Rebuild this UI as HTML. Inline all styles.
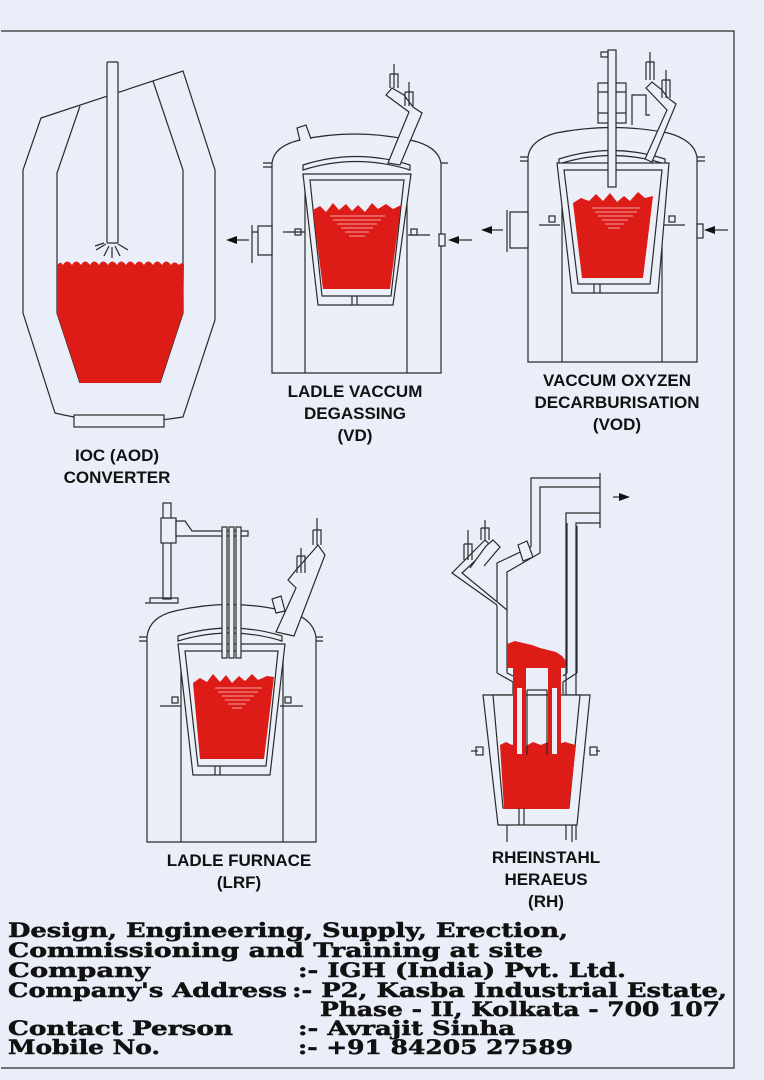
<!DOCTYPE html>
<html><head><meta charset="utf-8"><style>
html,body{margin:0;padding:0;background:#e9eef8;}
svg{display:block}
.l{fill:none;stroke:#2a2a2a;stroke-width:1.2}
.w{fill:#eaeff8;stroke:#2a2a2a;stroke-width:1.2}
.r{fill:#dd1c17;stroke:none}
.lab{font-family:"Liberation Sans",sans-serif;font-weight:bold;font-size:17px;fill:#111;text-anchor:middle}
.ft{font-family:"DejaVu Serif","Liberation Serif",serif;font-weight:bold;font-size:20px;fill:#111;stroke:#111;stroke-width:0.5}
.hl{stroke:#f3a0a0;stroke-width:1}
</style></head><body>
<svg width="764" height="1080" viewBox="0 0 764 1080" xmlns="http://www.w3.org/2000/svg">
<rect x="0" y="0" width="764" height="1080" fill="#e9eef8"/>
<path class="l" d="M1,31 H734 V1068 H1" stroke-width="1.5"/>

<!-- ===== AOD ===== -->
<path class="l" d="M41,118 L183,71 L215,170 L215,320 L183,417 Q117,428 55,413 L23,313 L23,170 Z"/>
<path class="l" d="M80,106 L57,173 L57,313 L80,383 M153,81 L183,170 L183,313 L160,383"/>
<path class="r" d="M57,266 q3,-6 6,-1 q4,-7 9,0 q4,-7 9,0 q4,-7 9,0 q4,-7 9,0 q4,-7 9,0 q4,-7 9,0 q4,-7 9,0 q4,-7 9,0 q4,-7 9,0 q4,-7 9,0 q4,-7 9,0 q4,-7 9,0 q3,-5 8,0 q2,-3 5,-1 L183,313 L160,383 L80,383 L57,313 Z"/>
<rect class="w" x="107" y="62" width="11" height="181" rx="1"/>
<path class="l" d="M106,244 L96,250 M109,246 L104,256 M112,247 L112,258 M115,246 L120,256 M118,244 L128,250 M104,243 L95,246"/>
<rect class="w" x="74" y="415" width="90" height="12"/>
<text class="lab" x="117" y="461">IOC (AOD)</text>
<text class="lab" x="117" y="483">CONVERTER</text>

<!-- ===== VD ===== -->
<path class="w" d="M272,373 V163 Q274,146 300,140 Q355,128 410,140 Q438,146 441,163 V373 Z"/>
<path class="l" d="M263,163 H272 M263,167 H272 M441,163 H448"/>
<path class="w" d="M300,141 L297,128 L306,125 L311,139"/>
<path class="w" d="M303,170 Q356,153 410,170 L410,165 Q356,148 303,165 Z"/>
<path class="l" d="M305,373 V178 M407,373 V178"/>
<path class="w" d="M303,174 H411 L393,305 H318 Z"/>
<path class="w" d="M310,180 H404 L391,296 H322 Z"/>
<path class="r" d="M313,210 L320,206 L326,212 L333,203 L339,210 L346,204 L352,211 L358,205 L365,212 L372,203 L378,209 L386,204 L393,209 L401,205 L390,289 H323 Z"/>
<g class="hl"><line x1="330" y1="216" x2="385" y2="216"/><line x1="333" y1="220" x2="381" y2="220"/><line x1="337" y1="224" x2="377" y2="224"/><line x1="341" y1="228" x2="373" y2="228"/><line x1="345" y1="232" x2="369" y2="232"/><line x1="349" y1="236" x2="365" y2="236"/></g>
<path class="l" d="M352,296 V305 M357,296 V305"/>
<path class="w" d="M258,226 H272 V255 H258 Z"/>
<path class="l" d="M252,225 V263 M252,232 H258"/>
<path class="l" d="M249,240 H236"/><path d="M226,240 L237,236 V244 Z" fill="#111"/>
<rect class="w" x="295" y="229" width="6" height="6"/><path class="l" d="M283,232 H305"/>
<rect class="w" x="411" y="229" width="6" height="6"/><path class="l" d="M408,235 H430"/>
<rect class="w" x="439" y="234" width="6" height="12"/>
<path class="l" d="M472,240 H458"/><path d="M448,240 L459,236 V244 Z" fill="#111"/>
<path class="w" d="M388,163 L409,112 L386,95 L392,88 L404,95 L413,107 L422,113 L400,165 Z"/>
<path class="l" d="M394,64 V88 M390,74 H398 V88 M390,74 V88 M409,82 V106 M405,92 H413 V106 M405,92 V106"/>
<text class="lab" x="355" y="397">LADLE VACCUM</text>
<text class="lab" x="355" y="419">DEGASSING</text>
<text class="lab" x="355" y="441">(VD)</text>

<!-- ===== VOD ===== -->
<path class="w" d="M528,362 V157 Q530,140 556,133 Q612,122 668,133 Q694,140 697,157 V362 Z"/>
<path class="l" d="M520,157 H528 M520,161 H528 M697,157 H705 M697,161 H705"/>
<path class="w" d="M559,164 Q612,147 665,164 L665,159 Q612,142 559,159 Z"/>
<path class="l" d="M562,362 V168 M662,362 V168"/>
<path class="w" d="M557,163 H669 L658,293 H572 Z"/>
<path class="w" d="M564,170 H662 L650,284 H578 Z"/>
<path class="r" d="M573,203 L581,198 L589,201 L596,194 L603,201 L610,193 L617,202 L624,196 L630,201 L638,192 L645,198 L653,196 L643,278 H582 Z"/>
<g class="hl"><line x1="592" y1="208" x2="640" y2="208"/><line x1="595" y1="212" x2="637" y2="212"/><line x1="598" y1="216" x2="633" y2="216"/><line x1="602" y1="220" x2="628" y2="220"/><line x1="605" y1="224" x2="624" y2="224"/><line x1="608" y1="228" x2="620" y2="228"/></g>
<path class="l" d="M594,284 V293 M600,284 V293"/>
<rect class="w" x="598" y="83" width="28" height="40"/>
<path class="l" d="M598,92 H626 M598,113 H626"/>
<rect class="w" x="608" y="50" width="8" height="137"/>
<path class="l" d="M601,52 H608 V57 H601 Z"/>
<path class="w" d="M510,212 H528 V248 H510 Z"/>
<path class="l" d="M507,210 V252"/>
<path class="l" d="M503,230 H490"/><path d="M481,230 L492,226 V234 Z" fill="#111"/>
<rect class="w" x="549" y="216" width="6" height="6"/><path class="l" d="M539,225 H560"/>
<rect class="w" x="669" y="216" width="6" height="6"/><path class="l" d="M664,225 H685"/>
<rect class="w" x="697" y="224" width="6" height="14"/>
<path class="l" d="M728,230 H713"/><path d="M704,230 L715,226 V234 Z" fill="#111"/>
<path class="w" d="M645,159 L667,110 L646,88 L652,82 L662,90 L668,98 L676,104 L652,162 Z"/>
<path class="w" d="M650,115 H646 V95 H632 V125"/>
<path class="l" d="M650,52 V80 M646,62 H654 V80 M646,62 V80 M666,70 V98 M662,80 H670 V98 M662,80 V98"/>
<text class="lab" x="617" y="386">VACCUM OXYZEN</text>
<text class="lab" x="617" y="408">DECARBURISATION</text>
<text class="lab" x="617" y="430">(VOD)</text>

<!-- ===== LRF ===== -->
<path class="w" d="M147,842 V637 Q149,617 175,611 Q230,598 285,611 Q313,617 316,637 V842 Z"/>
<path class="l" d="M139,637 H147 M139,641 H147 M316,637 H323 M316,641 H323"/>
<path class="w" d="M178,641 Q230,625 282,641 L282,636 Q230,620 178,636 Z"/>
<path class="l" d="M181,842 V648 M283,842 V648"/>
<path class="w" d="M178,644 H285 L270,775 H193 Z"/>
<path class="w" d="M185,651 H278 L266,766 H198 Z"/>
<path class="r" d="M193,683 L200,678 L207,682 L213,674 L220,682 L226,675 L232,683 L239,676 L245,681 L252,674 L258,680 L267,676 L274,677 L264,759 H200 Z"/>
<g class="hl"><line x1="215" y1="688" x2="262" y2="688"/><line x1="218" y1="692" x2="258" y2="692"/><line x1="222" y1="696" x2="254" y2="696"/><line x1="225" y1="700" x2="250" y2="700"/><line x1="228" y1="704" x2="246" y2="704"/><line x1="232" y1="708" x2="242" y2="708"/></g>
<path class="l" d="M215,766 V775 M220,766 V775"/>
<rect class="w" x="172" y="697" width="6" height="6"/><path class="l" d="M160,706 H181"/>
<rect class="w" x="285" y="697" width="6" height="6"/><path class="l" d="M280,706 H303"/>
<rect class="w" x="163" y="503" width="8" height="96"/>
<rect class="w" x="161" y="518" width="15" height="25"/>
<path class="w" d="M176,521 L185,521 L192,531 L248,531 L248,536 L176,536 Z"/>
<path class="l" d="M145,603 H178 V598 H150 V603"/>
<rect class="w" x="222" y="527" width="5" height="131"/>
<rect class="w" x="229" y="527" width="5" height="131"/>
<rect class="w" x="236" y="527" width="5" height="131"/>
<path class="w" d="M276,632 L296,588 L288,580 L296,570 L312,552 L318,545 L325,555 L294,636 Z"/>
<path class="w" d="M272,599 L276,613 L285,611 L281,596 Z"/>
<path class="l" d="M317,518 V545 M313,530 H321 V545 M313,530 V545 M301,548 V573 M297,556 H305 V573 M297,556 V573"/>
<text class="lab" x="239" y="866">LADLE FURNACE</text>
<text class="lab" x="239" y="888">(LRF)</text>

<!-- ===== RH ===== -->
<path class="l" d="M531,547 V478 H600 M540,553 V487 H600 M600,473 V528 M566,840 V513 H600 M576,840 V523 H600"/>
<path class="l" d="M613,497 H620"/><path d="M630,497 L619,493 V501 Z" fill="#111"/>
<path class="l" d="M497,673 V563 L531,547 M507,673 V572 L540,553"/>
<path class="w" d="M518,545 L527,541 L533,557 L523,561 Z"/>
<path class="l" d="M497,673 L513,682 V694 M507,673 L513,676 M577,673 L563,682 V694 M567,673 L563,676 M577,673 V526 M567,673 V523"/>
<path class="w" d="M497,605 L452,573 L485,540 L491,546 L462,573 L507,610"/>
<path class="w" d="M470,568 L486,546 L493,540 L500,547 L484,566"/>
<path class="l" d="M468,530 V560 M464,544 H472 V560 M464,544 V560 M485,520 V540 M481,528 H489 V540 M481,528 V540"/>
<path class="r" d="M507,644 L515,641 L523,643 L532,645 L540,648 L548,650 L556,652 L562,656 L566,661 L565,668 H507 Z"/>
<path class="w" d="M483,695 H590 L577,825 H498 Z"/>
<path class="w" d="M493,695 H580 L569,808 H503 Z"/>
<path class="r" d="M500,745 L506,742 L512,745 L518,743 L526,746 L533,742 L541,745 L548,742 L556,745 L565,742 L572,744 L576,745 L569,809 H504 Z"/>
<path class="l" d="M507,825 V842 M572,825 V842 M519,808 V825 M524,808 V825"/>
<rect class="w" x="476" y="747" width="7" height="8"/><path class="l" d="M471,751 H478"/>
<rect class="w" x="590" y="747" width="7" height="8"/><path class="l" d="M596,751 H600"/>
<rect class="r" x="513" y="668" width="13" height="88"/>
<rect class="r" x="548" y="668" width="13" height="88"/>
<rect x="517" y="688" width="5" height="66" fill="#eaeff8"/>
<rect x="552" y="688" width="5" height="66" fill="#eaeff8"/>
<path class="l" d="M527,690 V755 M547,690 V755 M527,690 H547"/>
<text class="lab" x="546" y="863">RHEINSTAHL</text>
<text class="lab" x="546" y="885">HERAEUS</text>
<text class="lab" x="546" y="907">(RH)</text>

<!-- ===== footer ===== -->
<text class="ft" x="8" y="937" textLength="560" lengthAdjust="spacingAndGlyphs">Design, Engineering, Supply, Erection,</text>
<text class="ft" x="8" y="957" textLength="535" lengthAdjust="spacingAndGlyphs">Commissioning and Training at site</text>
<text class="ft" x="8" y="977" textLength="142" lengthAdjust="spacingAndGlyphs">Company</text>
<text class="ft" x="298" y="977" textLength="328" lengthAdjust="spacingAndGlyphs">:- IGH (India) Pvt. Ltd.</text>
<text class="ft" x="8" y="997" textLength="279" lengthAdjust="spacingAndGlyphs">Company's Address</text>
<text class="ft" x="292" y="997" textLength="435" lengthAdjust="spacingAndGlyphs">:- P2, Kasba Industrial Estate,</text>
<text class="ft" x="320" y="1016" textLength="400" lengthAdjust="spacingAndGlyphs">Phase - II, Kolkata - 700 107</text>
<text class="ft" x="8" y="1035" textLength="225" lengthAdjust="spacingAndGlyphs">Contact Person</text>
<text class="ft" x="298" y="1035" textLength="217" lengthAdjust="spacingAndGlyphs">:- Avrajit Sinha</text>
<text class="ft" x="8" y="1054" textLength="152" lengthAdjust="spacingAndGlyphs">Mobile No.</text>
<text class="ft" x="298" y="1054" textLength="275" lengthAdjust="spacingAndGlyphs">:- +91 84205 27589</text>
</svg>
</body></html>
